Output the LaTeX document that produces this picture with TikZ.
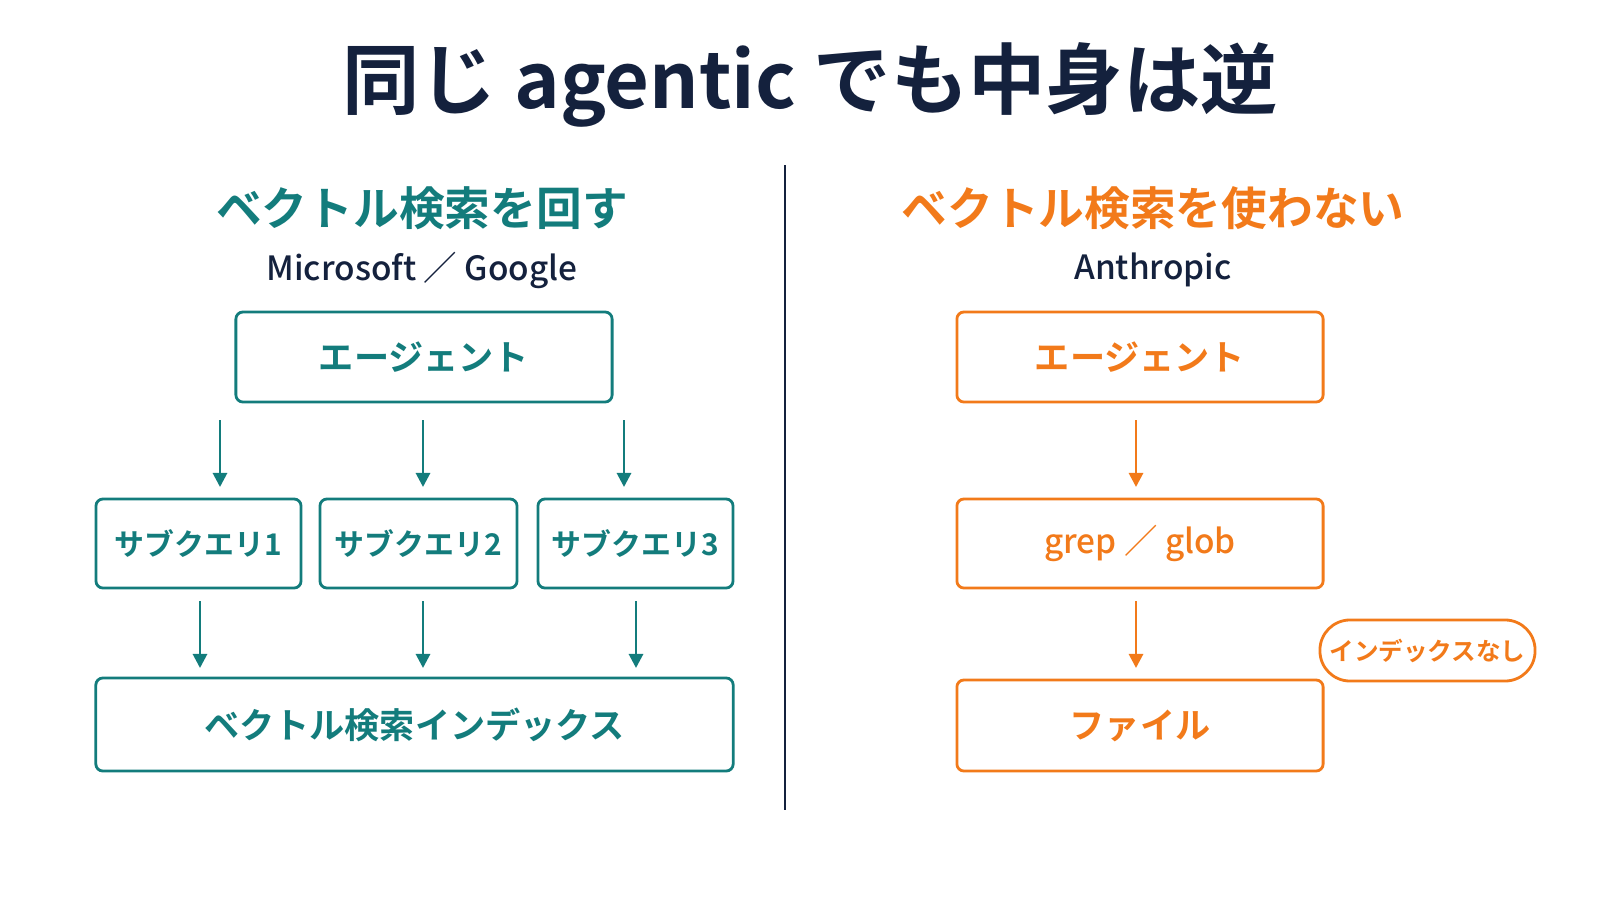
\documentclass[tikz,border=0pt]{standalone}
\usepackage{fontspec}
\setmainfont{Noto Sans CJK JP}
\newfontfamily\cjkbold{Noto Sans CJK JP Bold}
\newfontfamily\cjkmed{Noto Sans CJK JP Medium}
\usetikzlibrary{arrows.meta}
\definecolor{navy}{HTML}{14213D}
\definecolor{tealc}{HTML}{137C7C}
\definecolor{orangec}{HTML}{F27A1A}
\tikzset{
  box/.style={draw, line width=0.8pt, rounded corners=2pt, font=\cjkbold\fontsize{10}{12}\selectfont, inner sep=0pt},
  small/.style={font=\cjkbold\fontsize{8.5}{10}\selectfont},
  flow/.style={-{Triangle[length=4pt,width=4pt]}, line width=0.8pt},
}
\begin{document}
\begin{tikzpicture}[x=0.01cm,y=-0.01cm]
	\useasboundingbox (0,0) rectangle (1600,900);
	% title and divider
	\node[navy, font=\cjkbold\fontsize{22}{26}\selectfont] (title) at (810,85) {同じ agentic でも中身は逆};
	\draw[navy, line width=0.7pt] (785,165) -- (785,810);
	
	% left side
	\node[tealc, font=\cjkbold\fontsize{13}{16}\selectfont] (lhead) at (422,208) {ベクトル検索を回す};
	\node[navy, font=\cjkmed\fontsize{9.5}{12}\selectfont] (lsub) at (422,270) {Microsoft ／ Google};
	\begin{scope}[tealc]
	\node[box, minimum width=3.76cm, minimum height=0.9cm] (lagent) at (424,357) {エージェント};
	\node[box, small, minimum width=2.05cm, minimum height=0.89cm] (sq1) at (198.5,543.5) {サブクエリ1};
	\node[box, small, minimum width=1.97cm, minimum height=0.89cm] (sq2) at (418.5,543.5) {サブクエリ2};
	\node[box, small, minimum width=1.95cm, minimum height=0.89cm] (sq3) at (635.5,543.5) {サブクエリ3};
	\node[box, minimum width=6.37cm, minimum height=0.93cm] (vindex) at (414.5,724.5) {ベクトル検索インデックス};
	\coordinate (a1) at (220,420); \coordinate (a2) at (423,420); \coordinate (a3) at (624,420);
	\coordinate (b1) at (220,487); \coordinate (b2) at (423,487); \coordinate (b3) at (624,487);
	\foreach \i in {1,2,3} \draw[flow] (a\i) -- (b\i);
	\coordinate (c1) at (200,601); \coordinate (c2) at (423,601); \coordinate (c3) at (636,601);
	\coordinate (d1) at (200,668); \coordinate (d2) at (423,668); \coordinate (d3) at (636,668);
	\foreach \i in {1,2,3} \draw[flow] (c\i) -- (d\i);
	\end{scope}
	
	% right side
	\node[orangec, font=\cjkbold\fontsize{13}{16}\selectfont] (rhead) at (1153,208) {ベクトル検索を使わない};
	\node[navy, font=\cjkmed\fontsize{9.5}{12}\selectfont] (rsub) at (1153,270) {Anthropic};
	\begin{scope}[orangec]
	\node[box, minimum width=3.66cm, minimum height=0.9cm] (ragent) at (1140,357) {エージェント};
	\node[box, minimum width=3.66cm, minimum height=0.89cm, font=\cjkmed\fontsize{9.5}{12}\selectfont] (grep) at (1140,543.5) {grep ／ glob};
	\node[box, minimum width=3.66cm, minimum height=0.91cm] (file) at (1140,725.5) {ファイル};
	\node[box, minimum width=2.15cm, minimum height=0.61cm, rounded corners=0.3cm, font=\cjkbold\fontsize{7}{9}\selectfont] (noidx) at (1427.5,650.5) {インデックスなし};
	\coordinate (e1) at (1136,420); \coordinate (f1) at (1136,487);
	\coordinate (e2) at (1136,601); \coordinate (f2) at (1136,668);
	\draw[flow] (e1) -- (f1);
	\draw[flow] (e2) -- (f2);
	\end{scope}
\end{tikzpicture}
\end{document}
